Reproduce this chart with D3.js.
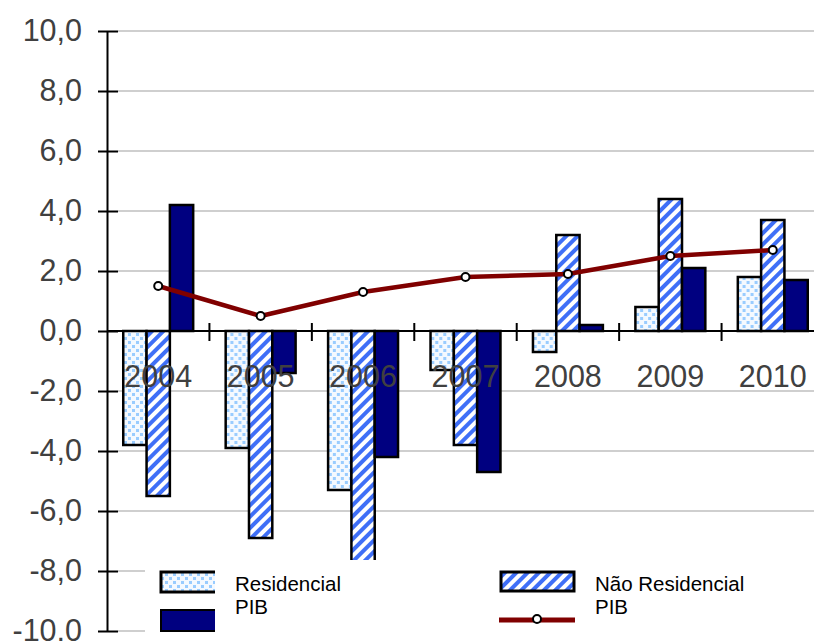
<!DOCTYPE html>
<html>
<head>
<meta charset="utf-8">
<script src="https://cdn.jsdelivr.net/npm/d3@7"></script>
<style>
  html, body { margin: 0; padding: 0; background: #fff; }
  svg { display: block; }
</style>
</head>
<body>
<svg id="chart" width="814" height="641"></svg>
<script>
// Annual growth rates (%)
const years = ["2004", "2005", "2006", "2007", "2008", "2009", "2010"];
const residencial = [-3.8, -3.9, -5.3, -1.3, -0.7, 0.8, 1.8];
const naoResidencial = [-5.5, -6.9, -7.9, -3.8, 3.2, 4.4, 3.7];
const pibBars = [4.2, -1.4, -4.2, -4.7, 0.2, 2.1, 1.7];
const pibLine = [1.5, 0.5, 1.3, 1.8, 1.9, 2.5, 2.7];
const yTicks = [-10, -8, -6, -4, -2, 0, 2, 4, 6, 8, 10];
const seriesKeys = ["res", "naoRes", "pib"];
const legendLabels = ["Residencial", "Não Residencial", "PIB", "PIB"];

const svg = d3.select("#chart");
const W = 814, H = 641;
const font = "'Liberation Sans', Arial, sans-serif";

const plot = { left: 107, right: 824, top: 31, bottom: 631 };

const x0 = d3.scaleBand().domain(years).range([plot.left, plot.right]).padding(0);
const x1 = d3.scaleBand().domain(seriesKeys).range([0, x0.bandwidth()])
  .paddingInner(0).paddingOuter(0.697);
const y = d3.scaleLinear().domain([-10, 10]).range([plot.bottom, plot.top]);

const ptBR = d3.formatLocale({ decimal: ",", thousands: ".", grouping: [3], currency: ["R$", ""], minus: "-" });
const fmt = ptBR.format(".1f");

// Fill patterns
const defs = svg.append("defs");
const dots = defs.append("pattern").attr("id", "dots")
  .attr("patternUnits", "userSpaceOnUse").attr("width", 8).attr("height", 8);
dots.append("rect").attr("width", 8).attr("height", 8).attr("fill", "#f4f9ff");
dots.append("rect").attr("x", 1).attr("y", 1).attr("width", 3).attr("height", 3).attr("fill", "#99ccff");
dots.append("rect").attr("x", 5).attr("y", 5).attr("width", 3).attr("height", 3).attr("fill", "#99ccff");

const stripes = defs.append("pattern").attr("id", "stripes")
  .attr("patternUnits", "userSpaceOnUse").attr("width", 8).attr("height", 8)
  .attr("patternTransform", "rotate(45)");
stripes.append("rect").attr("width", 8).attr("height", 8).attr("fill", "#ffffff");
stripes.append("rect").attr("width", 4).attr("height", 8).attr("fill", "#3f6ff7");

const fills = { res: "url(#dots)", naoRes: "url(#stripes)", pib: "#000080" };

// Horizontal gridlines
svg.append("g").selectAll("line").data(yTicks.filter(d => d !== 0)).join("line")
  .attr("x1", 118).attr("x2", W)
  .attr("y1", d => y(d)).attr("y2", d => y(d))
  .attr("stroke", "#cfcfcf").attr("stroke-width", 2);

// Bars
const rows = years.map((yr, i) => ({
  year: yr,
  values: [
    { key: "res", v: residencial[i] },
    { key: "naoRes", v: naoResidencial[i] },
    { key: "pib", v: pibBars[i] }
  ]
}));

const groups = svg.append("g").selectAll("g").data(rows).join("g")
  .attr("transform", d => `translate(${x0(d.year)},0)`);
groups.selectAll("rect").data(d => d.values).join("rect")
  .attr("x", d => x1(d.key))
  .attr("width", x1.bandwidth())
  .attr("y", d => y(Math.max(0, d.v)))
  .attr("height", d => Math.abs(y(d.v) - y(0)))
  .attr("fill", d => fills[d.key])
  .attr("stroke", "#000").attr("stroke-width", 2.5);

// Y axis
const yAxis = d3.axisLeft(y).tickValues(yTicks).tickFormat(fmt)
  .tickSizeOuter(0).tickSizeInner(9).tickPadding(16);
const gy = svg.append("g").attr("transform", `translate(${plot.left},0)`).call(yAxis);
gy.select(".domain").attr("stroke", "#000").attr("stroke-width", 2);
gy.selectAll(".tick line").attr("x1", -9).attr("x2", 11).attr("stroke", "#000").attr("stroke-width", 2);
gy.selectAll(".tick text").attr("font-family", font).attr("font-size", 30.5)
  .attr("fill", "#404040").attr("dy", "0.3em");

// X axis along zero
const xg = svg.append("g");
xg.append("line").attr("x1", plot.left).attr("x2", W)
  .attr("y1", y(0)).attr("y2", y(0)).attr("stroke", "#000").attr("stroke-width", 2);
xg.selectAll("line.tk").data(years.slice(1)).join("line").attr("class", "tk")
  .attr("x1", d => x0(d)).attr("x2", d => x0(d))
  .attr("y1", y(0) - 8).attr("y2", y(0) + 10)
  .attr("stroke", "#000").attr("stroke-width", 2);

// PIB line with markers
const line = d3.line().x((d, i) => x0(years[i]) + x0.bandwidth() / 2).y(d => y(d));
svg.append("path").datum(pibLine).attr("d", line)
  .attr("fill", "none").attr("stroke", "#800000").attr("stroke-width", 4.5)
  .attr("stroke-linejoin", "round");
svg.append("g").selectAll("circle").data(pibLine).join("circle")
  .attr("cx", (d, i) => x0(years[i]) + x0.bandwidth() / 2)
  .attr("cy", d => y(d)).attr("r", 4)
  .attr("fill", "#fff").attr("stroke", "#000").attr("stroke-width", 2);

// Year labels
svg.append("g").selectAll("text").data(years).join("text")
  .attr("x", d => x0(d) + x0.bandwidth() / 2)
  .attr("y", 387)
  .attr("text-anchor", "middle")
  .attr("font-family", font).attr("font-size", 30.5).attr("fill", "#404040")
  .text(d => d);

// Legend
const lg = svg.append("g");
lg.append("rect").attr("x", 145).attr("y", 560).attr("width", W - 145).attr("height", H - 560).attr("fill", "#fff");

defs.append("clipPath").attr("id", "lgclip")
  .append("rect").attr("x", 150).attr("y", 560).attr("width", 65).attr("height", 81);
const left = lg.append("g").attr("clip-path", "url(#lgclip)");
left.append("rect").attr("x", 161).attr("y", 572).attr("width", 70).attr("height", 20)
  .attr("fill", fills.res).attr("stroke", "#000").attr("stroke-width", 3);
left.append("rect").attr("x", 161).attr("y", 610).attr("width", 70).attr("height", 21)
  .attr("fill", fills.pib).attr("stroke", "#000").attr("stroke-width", 2);

lg.append("rect").attr("x", 501).attr("y", 572).attr("width", 73).attr("height", 19)
  .attr("fill", fills.naoRes).attr("stroke", "#000").attr("stroke-width", 3);
lg.append("line").attr("x1", 499).attr("x2", 575).attr("y1", 620).attr("y2", 620)
  .attr("stroke", "#800000").attr("stroke-width", 5);
lg.append("circle").attr("cx", 537).attr("cy", 619).attr("r", 4)
  .attr("fill", "#fff").attr("stroke", "#000").attr("stroke-width", 2);

const lt = [
  { t: legendLabels[0], x: 235, y: 591 },
  { t: legendLabels[2], x: 235, y: 614 },
  { t: legendLabels[1], x: 595, y: 591 },
  { t: legendLabels[3], x: 595, y: 614 }
];
lg.selectAll("text").data(lt).join("text")
  .attr("x", d => d.x).attr("y", d => d.y)
  .attr("font-family", font).attr("font-size", 20.5).attr("fill", "#000")
  .text(d => d.t);
</script>
</body>
</html>
